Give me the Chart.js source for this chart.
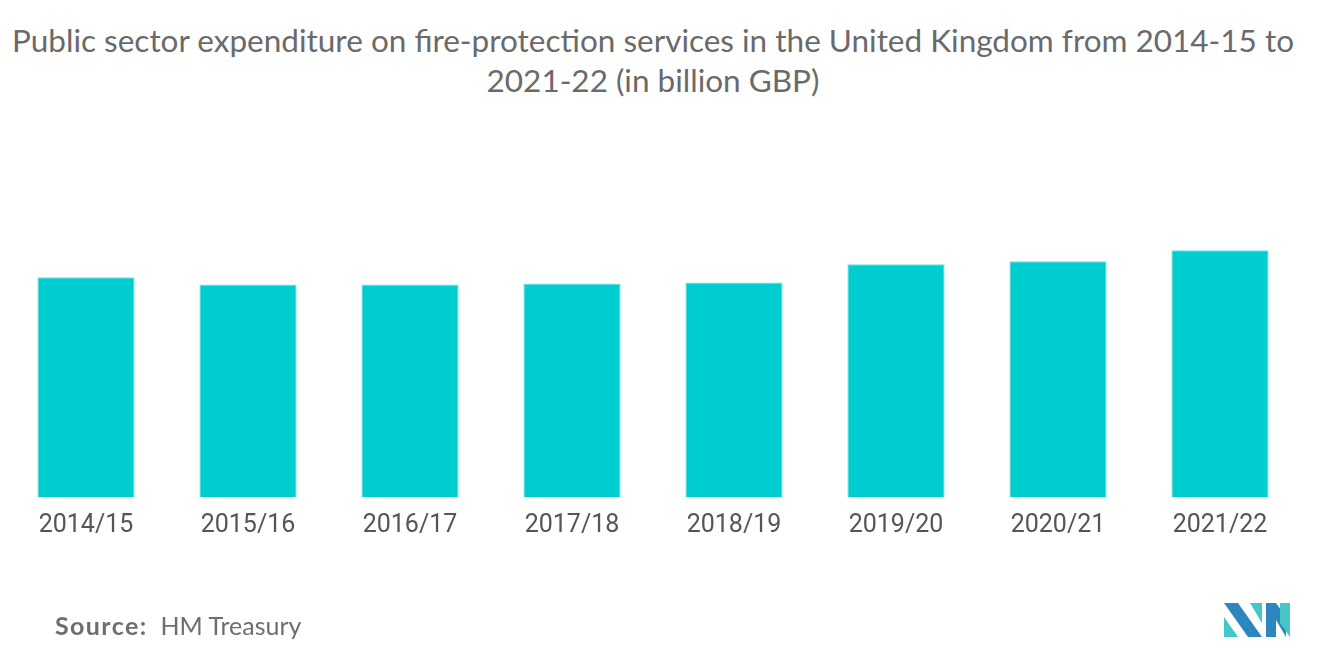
<!DOCTYPE html>
<html>
<head>
<meta charset="utf-8">
<script src="https://cdn.jsdelivr.net/npm/chart.js@4/dist/chart.umd.min.js"></script>
<style>
  html, body { margin: 0; padding: 0; background: #fff; }
  body { width: 1320px; height: 665px; position: relative; overflow: hidden; font-family: Lato, "Open Sans", sans-serif; }
  #title { position: absolute; left: 0; top: 20px; width: 1306px; text-align: center; color: #6a6a6a; font-size: 31.5px; line-height: 40px; font-family: Lato, sans-serif; white-space: nowrap; }
  #wrap { position: absolute; left: 0; top: 0; width: 1320px; height: 665px; }
  #source { position: absolute; left: 55px; top: 610px; font-size: 25px; line-height: 30px; color: #6e6e6e; font-family: Lato, sans-serif; white-space: nowrap; }
  #source b { font-weight: 700; letter-spacing: 1.4px; margin-right: 13px; }
  #logo { position: absolute; left: 1224px; top: 603px; }
</style>
</head>
<body>
<div id="title">Public sector expenditure on fire-protection services in the United Kingdom from 2014-15 to<br>2021-22 (in billion GBP)</div>
<div id="wrap"><canvas id="c" width="1320" height="665"></canvas></div>
<div id="source"><b>Source:</b>HM Treasury</div>
<svg id="logo" width="66" height="36" viewBox="0 0 66 36">
  <polygon points="0,0 14,0 38,34 24,34" fill="#2c86c0"/>
  <polygon points="0,14 14,34 0,34" fill="#45c6c8"/>
  <polygon points="26,0 38,0 38,20" fill="#45c6c8"/>
  <polygon points="42,0 52,0 52,34 42,34" fill="#2c86c0"/>
  <polygon points="42,0 52,0 62,14 62,34" fill="#2c86c0"/>
  <polygon points="56,0 66,0 66,34 56,20" fill="#45c6c8"/>
</svg>
<script>
const categories = ["2014/15", "2015/16", "2016/17", "2017/18", "2018/19", "2019/20", "2020/21", "2021/22"];
const expenditure = [2.19, 2.12, 2.12, 2.13, 2.14, 2.32, 2.35, 2.46];
const yMax = 3.46;

new Chart(document.getElementById('c'), {
  type: 'bar',
  data: {
    labels: categories,
    datasets: [{
      data: expenditure,
      backgroundColor: '#00cdd0',
      borderColor: '#6fe0e2',
      borderWidth: 1,
      barPercentage: 0.6,
      categoryPercentage: 1.0
    }]
  },
  options: {
    responsive: false,
    animation: false,
    devicePixelRatio: 1,
    layout: { padding: { top: 150, left: 5, right: 19, bottom: 118 } },
    plugins: { legend: { display: false }, tooltip: { enabled: false }, title: { display: false } },
    scales: {
      x: {
        grid: { display: false },
        border: { display: false },
        ticks: { color: '#555', padding: 6, font: { family: 'Roboto', size: 25 } }
      },
      y: {
        display: false,
        min: 0,
        max: yMax
      }
    }
  }
});
</script>
</body>
</html>
